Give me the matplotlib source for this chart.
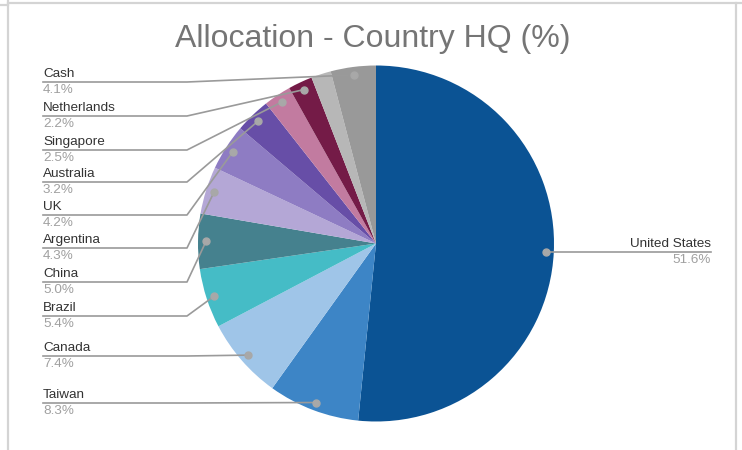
import numpy as np
import matplotlib
matplotlib.use("Agg")
import matplotlib.pyplot as plt

# slices in drawing order, clockwise from 12 o'clock
countries = ["United States", "Taiwan", "Canada", "Brazil", "China", "Argentina",
             "UK", "Australia", "Singapore", "Netherlands", "", "Cash"]
shares = [51.6, 8.3, 7.4, 5.4, 5.0, 4.3, 4.2, 3.2, 2.5, 2.2, 1.8, 4.1]
colors = ["#0b5394", "#3d85c6", "#9fc5e8", "#45bcc6", "#45818e", "#b4a7d6",
          "#8e7cc3", "#674ea7", "#c27ba0", "#741b47", "#b7b7b7", "#999999"]

# y of the label line for each left-side label (px from top)
left_label_y = {"Cash": 82, "Netherlands": 116, "Singapore": 150, "Australia": 182,
                "UK": 215, "Argentina": 248, "China": 282, "Brazil": 316,
                "Canada": 356, "Taiwan": 403}

W, H = 742, 450
fig = plt.figure(figsize=(W / 100, H / 100), dpi=100)
ax = fig.add_axes([0, 0, 1, 1])

cx, cy, r = 376, 243.5, 178
# y axis is flipped, so data-counterclockwise shows clockwise on screen
wedges, _ = ax.pie(shares, colors=colors, startangle=-90, counterclock=True,
                   center=(cx, cy), radius=r, frame=True,
                   wedgeprops=dict(linewidth=0))
ax.set_xlim(0, W)
ax.set_ylim(H, 0)
ax.set_aspect("equal")
ax.axis("off")

font = "Liberation Sans"
line_c = "#9a9a9a"
name_c = "#333333"
val_c = "#a0a0a0"
fs = 9.7

for w, name, val in zip(wedges, countries, shares):
    if not name:
        continue
    mid = np.deg2rad((w.theta1 + w.theta2) / 2)
    dx = cx + 0.955 * r * np.cos(mid)
    dy = cy + 0.955 * r * np.sin(mid)
    ax.plot(dx, dy, "o", color="#a8a8a8", ms=5, zorder=5)
    if name == "United States":
        x_end = 711
        ax.plot([dx, x_end], [dy, dy], color=line_c, lw=1.2, zorder=4)
        ax.text(x_end, dy - 2, name, ha="right", va="bottom", fontsize=fs,
                color=name_c, family=font)
        ax.text(x_end, dy + 2, f"{val:.1f}%", ha="right", va="top", fontsize=fs,
                color=val_c, family=font)
    else:
        ly = left_label_y[name]
        ax.plot([43, 187, dx], [ly, ly, dy], color=line_c, lw=1.2, zorder=4)
        ax.text(43, ly - 2, name, ha="left", va="bottom", fontsize=fs,
                color=name_c, family=font)
        ax.text(43, ly + 2, f"{val:.1f}%", ha="left", va="top", fontsize=fs,
                color=val_c, family=font)

ax.text(373, 39, "Allocation - Country HQ (%)", ha="center", va="center",
        fontsize=23, color="#757575", family=font)

# sheet cell frame
fc = "#d4d4d4"
ax.plot([8, 8], [0, H], color=fc, lw=1.6)
ax.plot([736, 736], [3, H], color=fc, lw=1.6)
ax.plot([8, W], [3, 3], color=fc, lw=1.6)
ax.plot([0, 8], [5, 5], color=fc, lw=1.6)

fig.savefig("out.png", dpi=100, facecolor="white")
